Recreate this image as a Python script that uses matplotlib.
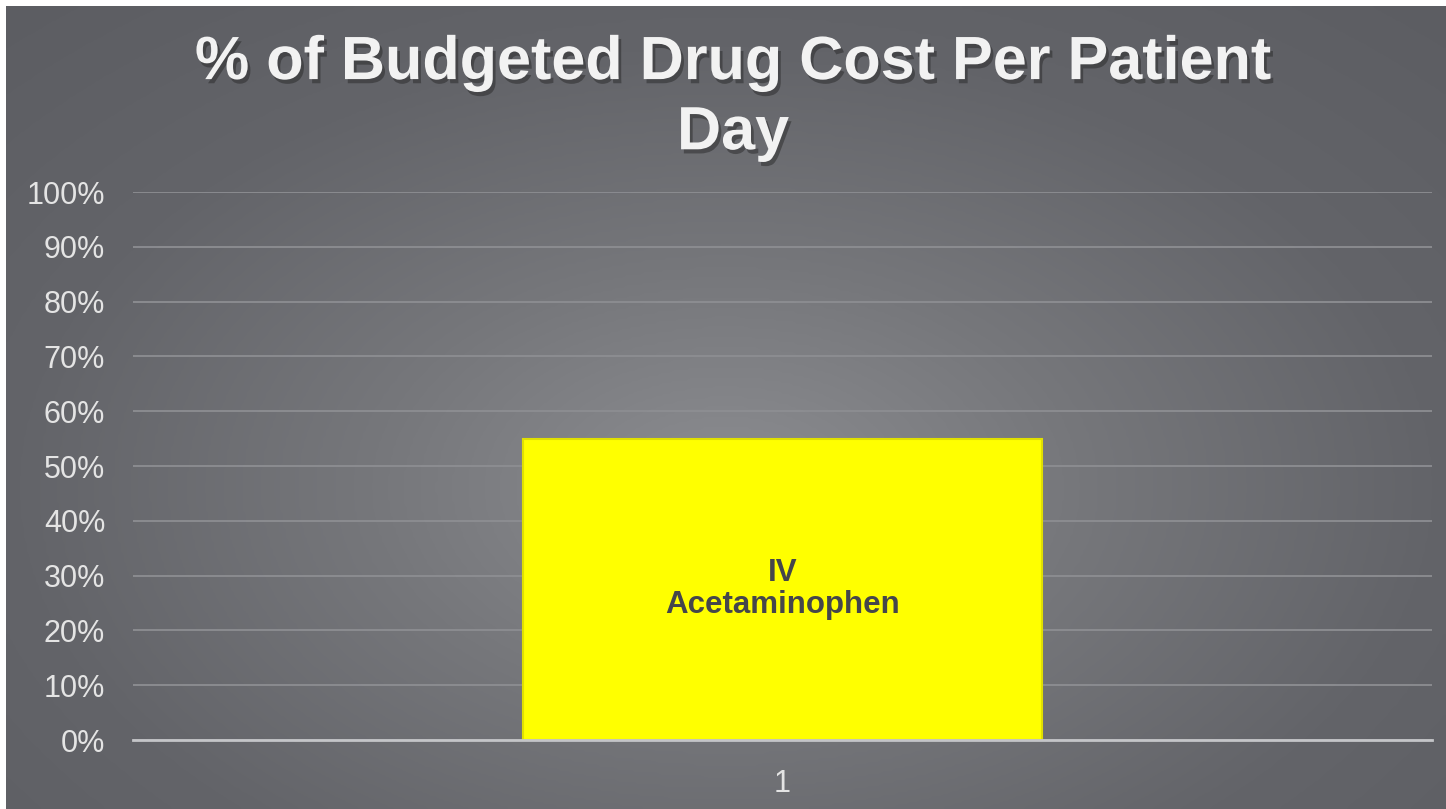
import matplotlib.pyplot as plt
import matplotlib.patheffects as pe
from matplotlib.colors import LinearSegmentedColormap
import numpy as np

# data
categories = ["1"]
values = [0.55]
bar_labels = ["IV\nAcetaminophen"]
y_ticks = [0, 0.1, 0.2, 0.3, 0.4, 0.5, 0.6, 0.7, 0.8, 0.9, 1.0]
title = "% of Budgeted Drug Cost Per Patient\nDay"

plt.rcParams['font.family'] = ['Liberation Sans', 'DejaVu Sans']

fig = plt.figure(figsize=(14.46, 8.09), dpi=100)
fig.patch.set_facecolor('white')

# background panel with a soft radial gradient (light centre, darker edges)
bg = fig.add_axes([6 / 1446, 0, 1 - 6 / 1446, 1 - 6 / 809])
yy, xx = np.mgrid[-1:1:300j, -1:1:500j]
r = np.sqrt((xx * 0.95) ** 2 + ((yy - 0.2) * 0.85) ** 2)
grad = LinearSegmentedColormap.from_list('bg', ['#8c8d91', '#76777b', '#636469', '#5c5d62'])
bg.imshow(r, cmap=grad, vmin=0, vmax=1.4, aspect='auto',
          extent=[0, 1, 0, 1], interpolation='bicubic')
bg.set_axis_off()

ax = fig.add_axes([133 / 1446, (809 - 740) / 809, (1432 - 133) / 1446, (740 - 192) / 809])
ax.patch.set_alpha(0)

x = np.arange(1, len(categories) + 1)
bars = ax.bar(x, values, width=0.4, color='#ffff00', edgecolor='#e0e000',
              linewidth=1.5, zorder=3)

for b, lab in zip(bars, bar_labels):
    ax.text(b.get_x() + b.get_width() / 2, b.get_height() / 2, lab,
            ha='center', va='center', fontsize=22.5, fontweight='bold',
            color='#45464b', zorder=4, linespacing=1.1)

ax.set_xlim(0.5, len(categories) + 0.5)
ax.set_ylim(0, 1.0)
ax.set_yticks(y_ticks)
ax.set_yticklabels([f"{int(round(t * 100))}%" for t in y_ticks])
ax.set_xticks(x)
ax.set_xticklabels(categories)
ax.tick_params(axis='both', length=0, labelsize=22, colors='#e4e4e4')
ax.tick_params(axis='y', pad=20)
ax.tick_params(axis='x', pad=21)

ax.grid(axis='y', color='#8d8e92', linewidth=1.3, zorder=0)
for s in ['top', 'right', 'left']:
    ax.spines[s].set_visible(False)
ax.spines['bottom'].set_color('#c4c5c8')
ax.spines['bottom'].set_linewidth(2)
ax.spines['bottom'].set_zorder(5)

fig.text(0.507, 0.878, title, ha='center', va='center', fontsize=44,
         fontweight='bold', color='#f2f2f2', linespacing=1.3,
         path_effects=[pe.withSimplePatchShadow(offset=(2, -3), shadow_rgbFace='#222222', alpha=0.45)])

fig.savefig('out.png', dpi=100, facecolor=fig.get_facecolor())
